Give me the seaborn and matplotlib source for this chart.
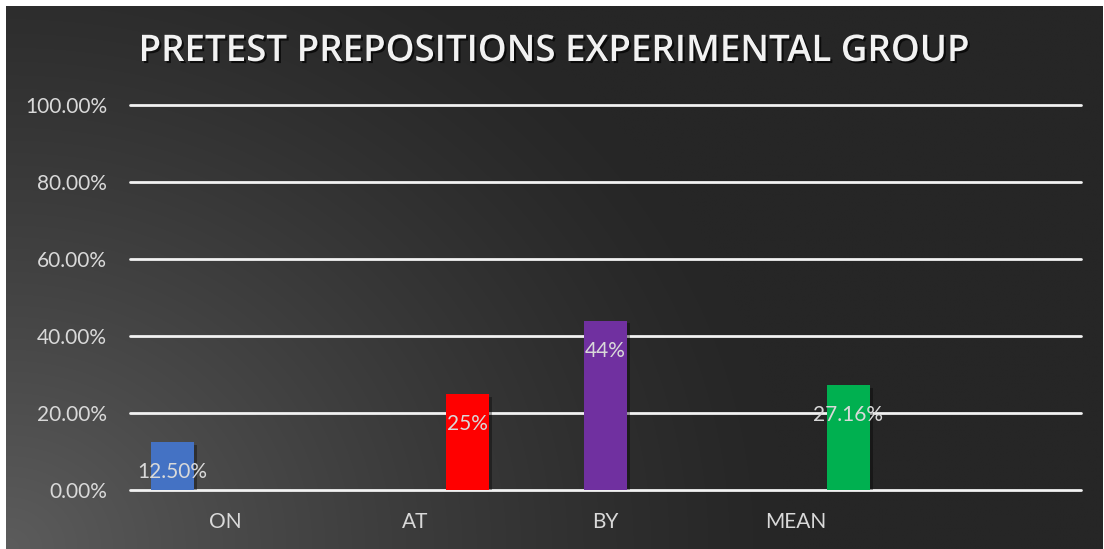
import numpy as np
import pandas as pd
import matplotlib
matplotlib.use("Agg")
import matplotlib.pyplot as plt
import matplotlib.patheffects as pe
import seaborn as sns

# Scores per preposition; each value sits in its own dodge slot of the group
categories = ["ON", "AT", "BY", "MEAN", ""]
bar_categories = ["ON", "AT", "BY", "MEAN"]
bar_slots = ["s1", "s3", "s2", "s3"]
bar_values = [0.125, 0.25, 0.44, 0.2716]
bar_labels = ["12.50%", "25%", "44%", "27.16%"]
bar_colors = ["#4472C4", "#FF0000", "#7030A0", "#00B050"]
slot_order = ["s1", "s2", "s3"]
y_ticks = [0.0, 0.2, 0.4, 0.6, 0.8, 1.0]
y_tick_labels = ["0.00%", "20.00%", "40.00%", "60.00%", "80.00%", "100.00%"]
title = "PRETEST PREPOSITIONS EXPERIMENTAL GROUP"

df = pd.DataFrame({"category": bar_categories, "slot": bar_slots, "value": bar_values})

sns.set_theme(style="dark")
plt.rcParams["font.family"] = ["Lato", "DejaVu Sans"]

W, H = 1104, 549
fig = plt.figure(figsize=(W / 100, H / 100), dpi=100)
fig.patch.set_facecolor("white")

# Dark panel with a soft radial glow from the lower-left corner
bg = fig.add_axes([6 / W, 0, (W - 7) / W, (H - 6) / H])
bg.set_axis_off()
gx, gy = np.meshgrid(np.linspace(0, W - 7, 400), np.linspace(0, H - 6, 200))
d = np.sqrt(gx ** 2 + (gy * 1.15) ** 2)
t = np.clip(1 - d / 780, 0, 1) ** 1.25
dark, light = 0x26 / 255, 0x5c / 255
shade = dark + (light - dark) * t
img = np.dstack([shade, shade, shade])
bg.imshow(img, origin="lower", aspect="auto", extent=[0, 1, 0, 1], interpolation="bilinear")
bg.set_xlim(0, 1)
bg.set_ylim(0, 1)

ax = fig.add_axes([130 / W, 1 - 490 / H, (1081 - 130) / W, (490 - 105) / H])
ax.set_facecolor("none")

sns.barplot(data=df, x="category", y="value", hue="slot", order=categories,
            hue_order=slot_order, dodge=True, width=0.83, gap=0.18,
            legend=False, ax=ax, zorder=3)

ax.set_xlim(-0.5, len(categories) - 0.5)
ax.set_ylim(0, 1.0)

# Colour each bar by the category it stands in and write its value inside the top
color_by_cat = dict(zip(bar_categories, bar_colors))
label_by_cat = dict(zip(bar_categories, bar_labels))
shadow = [pe.withSimplePatchShadow(offset=(2, -2), shadow_rgbFace="black", alpha=0.35)]
for patch in ax.patches:
    h = patch.get_height()
    if not np.isfinite(h) or h <= 0:
        continue
    cx = patch.get_x() + patch.get_width() / 2
    cat = categories[int(round(cx))]
    patch.set_facecolor(color_by_cat[cat])
    patch.set_edgecolor("none")
    patch.set_path_effects(shadow)
    ax.annotate(label_by_cat[cat], (cx, h), xytext=(0, -30), textcoords="offset pixels",
                ha="center", va="center", fontsize=15, color="#d9d9d9", zorder=5)

ax.set_yticks(y_ticks)
ax.set_yticklabels(y_tick_labels)
ax.grid(axis="y", color="#f2f2f2", linewidth=2, zorder=1)
ax.grid(axis="x", visible=False)
for gl in ax.get_ygridlines():
    gl.set_clip_on(False)
ax.set_axisbelow(True)
for s in ax.spines.values():
    s.set_visible(False)
ax.tick_params(axis="y", colors="#d9d9d9", labelsize=15, length=0, pad=16.5)
ax.tick_params(axis="x", colors="#d9d9d9", labelsize=15, length=0, pad=16)
ax.set_xlabel("")
ax.set_ylabel("")

fig.text(0.5015, 1 - 52 / H, title, ha="center", va="center", fontsize=26.4,
         fontweight=600, color="#f2f2f2", family=["Open Sans", "DejaVu Sans"],
         path_effects=[pe.withSimplePatchShadow(offset=(1.5, -1.5), shadow_rgbFace="black", alpha=0.7)])

fig.savefig("out.png", dpi=100)
